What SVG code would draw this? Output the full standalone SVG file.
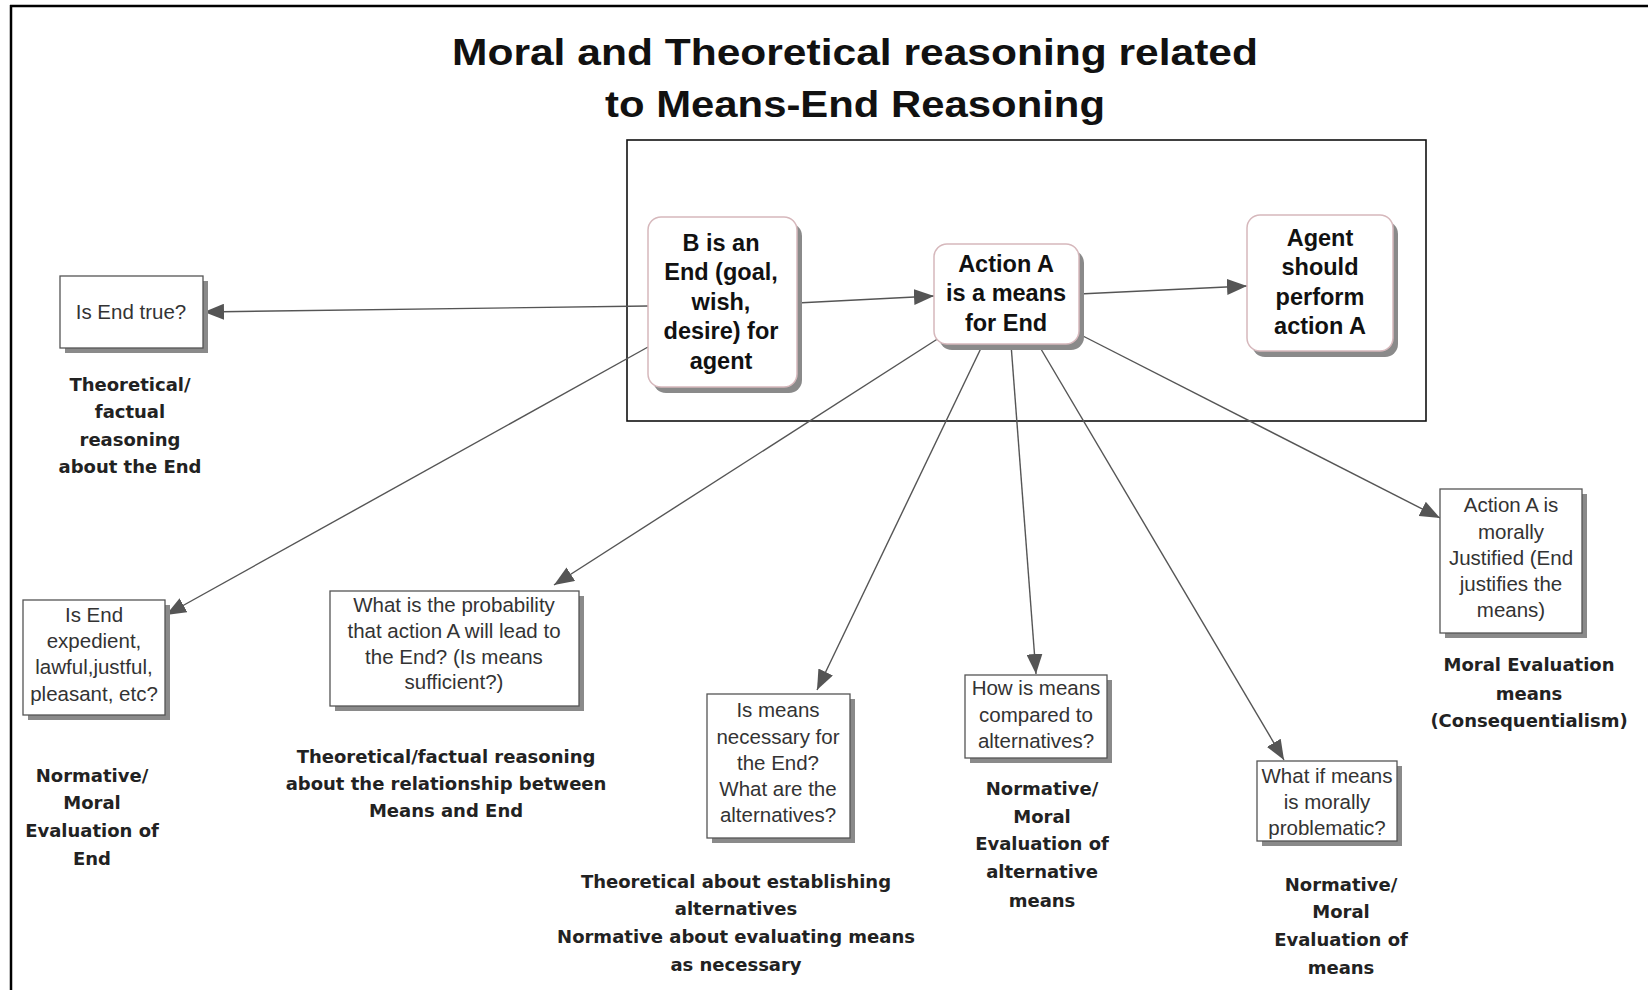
<svg xmlns="http://www.w3.org/2000/svg" width="1648" height="990" viewBox="0 0 1648 990">
  <style>
    .title { font-family: "Liberation Sans", Arial, sans-serif; font-weight: bold; font-size: 37px; fill: #111; text-anchor: middle; }
    .key { font-family: "Liberation Sans", Arial, sans-serif; font-weight: bold; font-size: 23.5px; fill: #111; text-anchor: middle; }
    .q { font-family: "Liberation Sans", Arial, sans-serif; font-size: 20.5px; fill: #333; text-anchor: middle; }
    .lbl { font-family: "DejaVu Sans", Verdana, sans-serif; font-weight: bold; font-size: 18px; fill: #222; text-anchor: middle; }
    .round { fill: #fff; stroke: #d6b8bc; stroke-width: 1.5; }
    .rshadow { fill: #8a8a8a; }
    .box { fill: #fff; stroke: #555; stroke-width: 1.3; }
    .shadow { fill: #8a8a8a; }
    .edge { stroke: #555; stroke-width: 1.4; fill: none; marker-end: url(#arrow); }
  </style>
  <defs>
    <marker id="arrow" markerUnits="userSpaceOnUse" markerWidth="20" markerHeight="16" viewBox="0 0 20 16" refX="20" refY="8" orient="auto">
      <path d="M0,0 L20,8 L0,16 Z" fill="#555"/>
    </marker>
  </defs>

  <rect width="1648" height="990" fill="#fff"/>

  <!-- page frame: top and left rules -->
  <line x1="10" y1="6" x2="1648" y2="6" stroke="#000" stroke-width="2.5"/>
  <line x1="11" y1="5" x2="11" y2="990" stroke="#000" stroke-width="2.5"/>

  <!-- heading -->
  <text class="title" x="855" y="65" textLength="806" lengthAdjust="spacingAndGlyphs">Moral and Theoretical reasoning related</text>
  <text class="title" x="855" y="117" textLength="500" lengthAdjust="spacingAndGlyphs">to Means-End Reasoning</text>

  <!-- practical syllogism frame -->
  <rect x="627" y="140" width="799" height="281" fill="none" stroke="#111" stroke-width="1.6"/>

  <!-- connectors -->
  <g id="connectors">
    <line class="edge" x1="648" y1="306" x2="204" y2="312"/>
    <line class="edge" x1="797" y1="303" x2="934" y2="296"/>
    <line class="edge" x1="1079" y1="294" x2="1247" y2="286"/>
    <line class="edge" x1="648" y1="347" x2="166" y2="615"/>
    <line class="edge" x1="939" y1="338" x2="554" y2="585"/>
    <line class="edge" x1="983" y1="344" x2="817" y2="690"/>
    <line class="edge" x1="1011" y1="344" x2="1036" y2="674"/>
    <line class="edge" x1="1038" y1="344" x2="1284" y2="760"/>
    <line class="edge" x1="1079" y1="334" x2="1440" y2="518"/>
  </g>

  <!-- premise: the End -->
  <g id="node-end">
    <rect class="rshadow" x="653" y="223" width="149" height="170" rx="13"/>
    <rect class="round" x="648" y="217" width="149" height="170" rx="13"/>
    <text class="key" x="721" y="251">B is an</text>
    <text class="key" x="721" y="280">End (goal,</text>
    <text class="key" x="721" y="310">wish,</text>
    <text class="key" x="721" y="339">desire) for</text>
    <text class="key" x="721" y="369">agent</text>
  </g>

  <!-- premise: the means -->
  <g id="node-means">
    <rect class="rshadow" x="939" y="250" width="145" height="100" rx="13"/>
    <rect class="round" x="934" y="244" width="145" height="100" rx="13"/>
    <text class="key" x="1006" y="272">Action A</text>
    <text class="key" x="1006" y="301">is a means</text>
    <text class="key" x="1006" y="331">for End</text>
  </g>

  <!-- conclusion -->
  <g id="node-conclusion">
    <rect class="rshadow" x="1252" y="221" width="146" height="136" rx="13"/>
    <rect class="round" x="1247" y="215" width="146" height="136" rx="13"/>
    <text class="key" x="1320" y="246">Agent</text>
    <text class="key" x="1320" y="275">should</text>
    <text class="key" x="1320" y="305">perform</text>
    <text class="key" x="1320" y="334">action A</text>
  </g>

  <!-- questions about the End -->
  <g id="node-end-true">
    <rect class="shadow" x="65" y="281" width="143" height="72"/>
    <rect class="box" x="60" y="276" width="143" height="72"/>
    <text class="q" x="131" y="319">Is End true?</text>
    <text class="lbl" x="130" y="391">Theoretical/</text>
    <text class="lbl" x="130" y="418">factual</text>
    <text class="lbl" x="130" y="446">reasoning</text>
    <text class="lbl" x="130" y="473">about the End</text>
  </g>

  <g id="node-end-expedient">
    <rect class="shadow" x="28" y="605" width="142" height="115"/>
    <rect class="box" x="23" y="600" width="142" height="115"/>
    <text class="q" x="94" y="622">Is End</text>
    <text class="q" x="94" y="648">expedient,</text>
    <text class="q" x="94" y="674">lawful,justful,</text>
    <text class="q" x="94" y="701">pleasant, etc?</text>
    <text class="lbl" x="92" y="782">Normative/</text>
    <text class="lbl" x="92" y="809">Moral</text>
    <text class="lbl" x="92" y="837">Evaluation of</text>
    <text class="lbl" x="92" y="865">End</text>
  </g>

  <!-- questions about the means -->
  <g id="node-probability">
    <rect class="shadow" x="335" y="596" width="249" height="115"/>
    <rect class="box" x="330" y="591" width="249" height="115"/>
    <text class="q" x="454" y="612">What is the probability</text>
    <text class="q" x="454" y="638">that action A will lead to</text>
    <text class="q" x="454" y="664">the End? (Is means</text>
    <text class="q" x="454" y="689">sufficient?)</text>
    <text class="lbl" x="446" y="763">Theoretical/factual  reasoning</text>
    <text class="lbl" x="446" y="790">about the relationship between</text>
    <text class="lbl" x="446" y="817">Means and End</text>
  </g>

  <g id="node-necessary">
    <rect class="shadow" x="712" y="699" width="143" height="144"/>
    <rect class="box" x="707" y="694" width="143" height="144"/>
    <text class="q" x="778" y="717">Is means</text>
    <text class="q" x="778" y="744">necessary for</text>
    <text class="q" x="778" y="770">the End?</text>
    <text class="q" x="778" y="796">What are the</text>
    <text class="q" x="778" y="822">alternatives?</text>
    <text class="lbl" x="736" y="888">Theoretical about establishing</text>
    <text class="lbl" x="736" y="915">alternatives</text>
    <text class="lbl" x="736" y="943">Normative about evaluating means</text>
    <text class="lbl" x="736" y="971">as necessary</text>
  </g>

  <g id="node-compared">
    <rect class="shadow" x="970" y="680" width="142" height="83"/>
    <rect class="box" x="965" y="675" width="142" height="83"/>
    <text class="q" x="1036" y="695">How is means</text>
    <text class="q" x="1036" y="722">compared to</text>
    <text class="q" x="1036" y="748">alternatives?</text>
    <text class="lbl" x="1042" y="795">Normative/</text>
    <text class="lbl" x="1042" y="823">Moral</text>
    <text class="lbl" x="1042" y="850">Evaluation of</text>
    <text class="lbl" x="1042" y="878">alternative</text>
    <text class="lbl" x="1042" y="907">means</text>
  </g>

  <g id="node-problematic">
    <rect class="shadow" x="1262" y="766" width="140" height="80"/>
    <rect class="box" x="1257" y="761" width="140" height="80"/>
    <text class="q" x="1327" y="783">What if means</text>
    <text class="q" x="1327" y="809">is morally</text>
    <text class="q" x="1327" y="835">problematic?</text>
    <text class="lbl" x="1341" y="891">Normative/</text>
    <text class="lbl" x="1341" y="918">Moral</text>
    <text class="lbl" x="1341" y="946">Evaluation of</text>
    <text class="lbl" x="1341" y="974">means</text>
  </g>

  <g id="node-justified">
    <rect class="shadow" x="1445" y="494" width="142" height="144"/>
    <rect class="box" x="1440" y="489" width="142" height="144"/>
    <text class="q" x="1511" y="512">Action A is</text>
    <text class="q" x="1511" y="539">morally</text>
    <text class="q" x="1511" y="565">Justified (End</text>
    <text class="q" x="1511" y="591">justifies the</text>
    <text class="q" x="1511" y="617">means)</text>
    <text class="lbl" x="1529" y="671">Moral Evaluation</text>
    <text class="lbl" x="1529" y="700">means</text>
    <text class="lbl" x="1529" y="727">(Consequentialism)</text>
  </g>
</svg>
